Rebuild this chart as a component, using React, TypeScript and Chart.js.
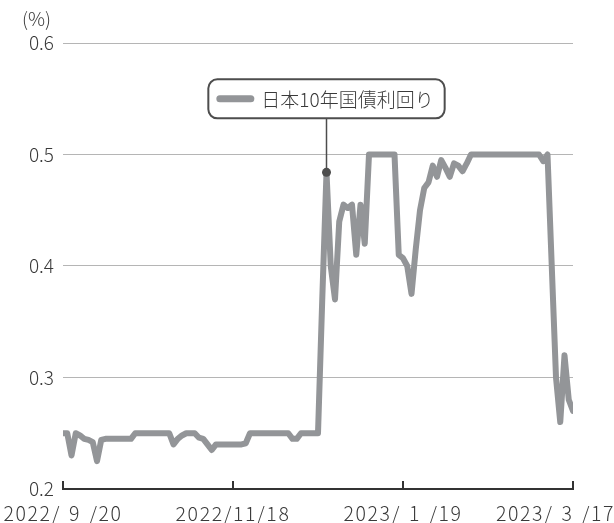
import React, { useEffect, useRef } from "react";
import { Chart, registerables } from "chart.js";

Chart.register(...registerables);

// ---- data ----
const tickLabels = ["2022/\u20049\u2004/20", "2022/11/18", "2023/\u20041\u2004/19", "2023/\u20043\u2004/17"];
const tickStep = 40; // trading days between labelled ticks
const seriesName = "日本10年国債利回り";
const unitLabel = "(%)";
const yMin = 0.2;
const yMax = 0.6;
const yStep = 0.1;
const peakIndex = 62; // the annotated point

const yieldValues = [
  0.25, 0.25, 0.23, 0.25, 0.248, 0.245, 0.244, 0.242, 0.225, 0.244,
  0.245, 0.245, 0.245, 0.245, 0.245, 0.245, 0.245, 0.25, 0.25, 0.25,
  0.25, 0.25, 0.25, 0.25, 0.25, 0.25, 0.24, 0.245, 0.248, 0.25,
  0.25, 0.25, 0.246, 0.245, 0.24, 0.235, 0.24, 0.24, 0.24, 0.24,
  0.24, 0.24, 0.24, 0.241, 0.25, 0.25, 0.25, 0.25, 0.25, 0.25,
  0.25, 0.25, 0.25, 0.25, 0.245, 0.245, 0.25, 0.25, 0.25, 0.25,
  0.25, 0.37, 0.484, 0.40, 0.37, 0.44, 0.455, 0.452, 0.455, 0.41,
  0.455, 0.42, 0.5, 0.5, 0.5, 0.5, 0.5, 0.5, 0.5, 0.41,
  0.407, 0.40, 0.375, 0.415, 0.45, 0.47, 0.475, 0.49, 0.48, 0.495,
  0.488, 0.48, 0.492, 0.49, 0.485, 0.492, 0.5, 0.5, 0.5, 0.5,
  0.5, 0.5, 0.5, 0.5, 0.5, 0.5, 0.5, 0.5, 0.5, 0.5,
  0.5, 0.5, 0.5, 0.494, 0.5, 0.40, 0.30, 0.26, 0.32, 0.28,
  0.27,
];

const FONT = "'Noto Sans CJK JP', 'Noto Sans', sans-serif";
const TEXT = "#3a3a3a";
const LINE = "#939598";
const DARK = "#4d4d4d";

const overlay = {
  id: "overlay",
  afterDatasetsDraw(chart: any) {
    const ctx = chart.ctx;
    const xs = chart.scales.x;
    const ys = chart.scales.y;
    const area = chart.chartArea;
    ctx.save();

    // bottom axis line with inward ticks
    ctx.strokeStyle = "#333";
    ctx.lineWidth = 2;
    ctx.lineCap = "butt";
    ctx.beginPath();
    ctx.moveTo(area.left - 1, area.bottom);
    ctx.lineTo(area.right + 1, area.bottom);
    ctx.stroke();
    xs.ticks.forEach((t: any) => {
      const px = xs.getPixelForValue(t.value);
      ctx.beginPath();
      ctx.moveTo(px, area.bottom);
      ctx.lineTo(px, area.bottom - 8);
      ctx.stroke();
    });

    // x tick labels (drawn with a little tracking, kept inside the canvas)
    ctx.fillStyle = TEXT;
    ctx.font = `300 19.5px ${FONT}`;
    ctx.textAlign = "left";
    ctx.textBaseline = "middle";
    try { (ctx as any).letterSpacing = "1.6px"; } catch (e) {}
    xs.ticks.forEach((t: any) => {
      const px = xs.getPixelForValue(t.value);
      const lbl = tickLabels[Math.round(Number(t.value) / tickStep)] ?? "";
      const w = ctx.measureText(lbl).width;
      let lx = px - w / 2;
      if (lx < 0) lx = 0;
      if (lx + w > chart.width + 1) lx = chart.width + 1 - w;
      ctx.fillText(lbl, lx, area.bottom + 25);
    });
    try { (ctx as any).letterSpacing = "0px"; } catch (e) {}

    // unit label
    ctx.font = `300 19px ${FONT}`;
    ctx.textAlign = "right";
    ctx.textBaseline = "middle";
    ctx.fillText(unitLabel, area.left - 12, area.top - 24);

    // annotation
    const px = xs.getPixelForValue(peakIndex);
    const py = ys.getPixelForValue(yieldValues[peakIndex]);
    ctx.font = `300 19px ${FONT}`;
    const tw = ctx.measureText(seriesName).width;
    const padL = 8, lineLen = 38, gap = 7, padR = 11;
    const bw = padL + lineLen + gap + tw + padR;
    const bh = 39;
    const bBottom = py - 54;
    const bTop = bBottom - bh;
    const bLeft = px - bw / 2;
    const r = 9;

    ctx.strokeStyle = DARK;
    ctx.lineWidth = 1.5;
    ctx.beginPath();
    ctx.moveTo(px, bBottom);
    ctx.lineTo(px, py);
    ctx.stroke();
    ctx.fillStyle = DARK;
    ctx.beginPath();
    ctx.arc(px, py, 4.5, 0, Math.PI * 2);
    ctx.fill();

    ctx.beginPath();
    ctx.moveTo(bLeft + r, bTop);
    ctx.lineTo(bLeft + bw - r, bTop);
    ctx.arcTo(bLeft + bw, bTop, bLeft + bw, bTop + r, r);
    ctx.lineTo(bLeft + bw, bBottom - r);
    ctx.arcTo(bLeft + bw, bBottom, bLeft + bw - r, bBottom, r);
    ctx.lineTo(bLeft + r, bBottom);
    ctx.arcTo(bLeft, bBottom, bLeft, bBottom - r, r);
    ctx.lineTo(bLeft, bTop + r);
    ctx.arcTo(bLeft, bTop, bLeft + r, bTop, r);
    ctx.closePath();
    ctx.fillStyle = "#ffffff";
    ctx.fill();
    ctx.strokeStyle = DARK;
    ctx.lineWidth = 2;
    ctx.stroke();

    const cy = (bTop + bBottom) / 2;
    ctx.strokeStyle = LINE;
    ctx.lineWidth = 7;
    ctx.lineCap = "round";
    ctx.beginPath();
    ctx.moveTo(bLeft + padL + 3.5, cy);
    ctx.lineTo(bLeft + padL + lineLen - 3.5, cy);
    ctx.stroke();

    ctx.fillStyle = TEXT;
    ctx.textAlign = "left";
    ctx.textBaseline = "middle";
    ctx.fillText(seriesName, bLeft + padL + lineLen + gap, cy + 1);

    ctx.restore();
  },
};

export default function App() {
  const ref = useRef<HTMLCanvasElement | null>(null);

  useEffect(() => {
    const canvas = ref.current;
    if (!canvas) return;
    const points = yieldValues.map((v, i) => ({ x: i, y: v }));
    const chart = new Chart(canvas, {
      type: "line",
      data: {
        datasets: [
          {
            label: seriesName,
            data: points,
            borderColor: LINE,
            borderWidth: 6,
            borderJoinStyle: "round",
            borderCapStyle: "round",
            pointRadius: 0,
            tension: 0,
            fill: false,
          },
        ],
      },
      options: {
        animation: false,
        responsive: false,
        devicePixelRatio: 1,
        layout: { padding: { top: 43, left: 0, right: 41, bottom: 0 } },
        plugins: {
          legend: { display: false },
          tooltip: { enabled: false },
        },
        scales: {
          x: {
            type: "linear",
            min: 0,
            max: (tickLabels.length - 1) * tickStep,
            grid: { display: false, drawTicks: false },
            border: { display: false },
            ticks: {
              display: false,
              stepSize: tickStep,
              autoSkip: false,
              maxRotation: 0,
            },
            afterFit: (s: any) => {
              s.height = 34;
              s.paddingLeft = 0;
              s.paddingRight = 0;
            },
          },
          y: {
            min: yMin,
            max: yMax,
            grid: {
              drawTicks: false,
              lineWidth: 1,
              color: (c: any) =>
                Math.abs(Number(c.tick?.value) - yMin) < 1e-6 ? "rgba(0,0,0,0)" : "#b5b5b5",
            },
            border: { display: false },
            ticks: {
              stepSize: yStep,
              padding: 9,
              color: TEXT,
              font: { family: FONT, size: 19, weight: "300" },
              callback: (v: any) => Number(v).toFixed(1),
            },
            afterFit: (s: any) => {
              s.width = 63;
              s.paddingTop = 0;
              s.paddingBottom = 0;
            },
          },
        },
      },
      plugins: [overlay],
    } as any);
    return () => chart.destroy();
  }, []);

  return (
    <div style={{ position: "fixed", left: 0, top: 0, width: 614, height: 523, background: "#fff" }}>
      <canvas ref={ref} width={614} height={523} style={{ width: 614, height: 523, display: "block" }} />
    </div>
  );
}
